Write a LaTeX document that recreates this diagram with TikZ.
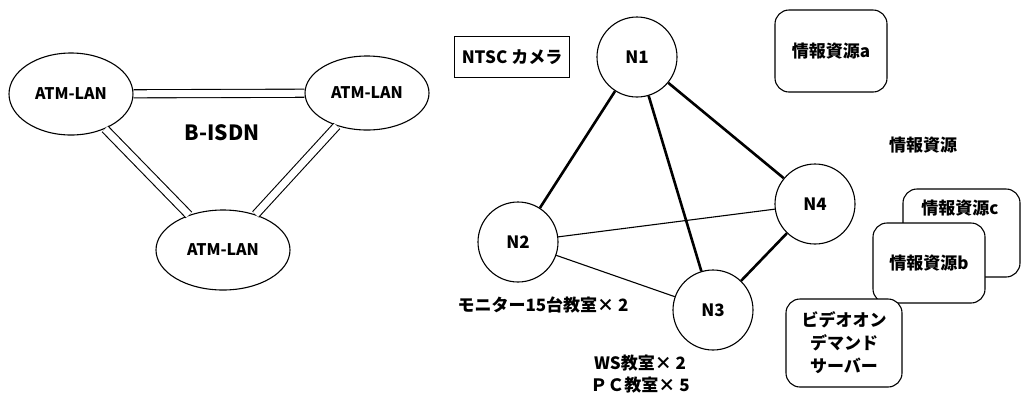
\documentclass[tikz,border=0pt]{standalone}
\usepackage{fontspec}
\setmainfont{Noto Sans CJK JP}
\usetikzlibrary{shapes.geometric}
\begin{document}
\begin{tikzpicture}[x=1pt,y=-1pt,
		txt/.style={font=\fontsize{17}{22}\selectfont\bfseries},
		lan/.style={ellipse,draw,line width=1.1pt,font=\fontsize{16}{18}\selectfont\bfseries},
		nd/.style={circle,draw,line width=1.1pt,minimum size=80pt,font=\fontsize{17}{18}\selectfont\bfseries},
		res/.style={draw,fill=white,rounded corners=14pt,line width=1.1pt,align=center,font=\fontsize{17}{23}\selectfont\bfseries},
		dbl/.style={double,double distance=7pt,line width=1.1pt},
		thk/.style={line width=2.6pt},
		thn/.style={line width=1.1pt}]
				\useasboundingbox (0,0) rectangle (1022,392);
				\node[lan,minimum width=124pt,minimum height=82pt] (L1) at (71,94) {ATM-LAN};
				\node[lan,minimum width=124pt,minimum height=74pt] (L2) at (367,93) {ATM-LAN};
				\node[lan,minimum width=134pt,minimum height=80pt] (L3) at (223,250) {ATM-LAN};
				\node[font=\fontsize{21}{22}\selectfont\bfseries] (B) at (222,133) {B-ISDN};
				\draw[dbl] (L1) -- (L2);
				\draw[dbl] (L1) -- (L3);
				\draw[dbl] (L2) -- (L3);
				
				\node[draw,thn,minimum width=115pt,minimum height=41pt,txt] (CAM) at (512,57) {NTSC カメラ};
				\node[nd] (N1) at (637,57) {N1};
				\node[nd] (N2) at (518,242) {N2};
				\node[nd] (N3) at (713,310) {N3};
				\node[nd] (N4) at (815,204) {N4};
				\draw[thk] (N1) -- (N2);
				\draw[thk] (N1) -- (N3);
				\draw[thk] (N1) -- (N4);
				\draw[thk] (N3) -- (N4);
				\draw[thn] (N2) -- (N4);
				\draw[thn] (N2) -- (N3);
				\node[txt] (M) at (543,305) {モニター15台教室× 2};
				\node[txt,align=center] (W) at (640,374) {WS教室× 2\\ＰＣ教室× 5};
				
				\node[res,minimum width=112pt,minimum height=82pt] (RA) at (831,51) {情報資源a};
				\node[txt] (R) at (923,145) {情報資源};
				\node[res,minimum width=117pt,minimum height=88pt] (RC) at (961.5,233) {};
				\node[txt] (RCt) at (960,208) {情報資源c};
				\node[res,minimum width=112pt,minimum height=80pt] (RB) at (929,263) {情報資源b};
				\node[res,minimum width=116pt,minimum height=88pt] (V) at (844,343) {ビデオオン\\デマンド\\サーバー};
			\end{tikzpicture}
\end{document}
